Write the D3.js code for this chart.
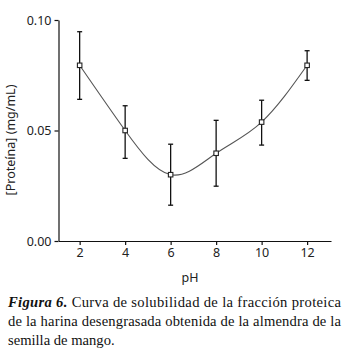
<!DOCTYPE html>
<html>
<head>
<meta charset="utf-8">
<script src="https://cdn.jsdelivr.net/npm/d3@7"></script>
<style>
  body { margin: 0; background: #fff; }
  .axis path, .axis line { stroke: #111; stroke-width: 1.2; }
  .axis text { font-family: "Noto Sans", sans-serif; font-size: 12.5px; fill: #222; }
  .curve { fill: none; stroke: #555; stroke-width: 1.1; }
  .err { stroke: #111; stroke-width: 1.3; }
  .marker { fill: #fff; stroke: #222; stroke-width: 1.1; }
  .label { font-family: "Noto Sans", sans-serif; font-size: 12.5px; fill: #222; }
  .caption { font-family: "Liberation Serif", "Times New Roman", serif; font-size: 14.6px; fill: #111; }
</style>
</head>
<body>
<div id="chart"></div>
<script>
var ph = [2, 4, 6, 8, 10, 12];
var protein = [0.0795, 0.050, 0.030, 0.0397, 0.0538, 0.0795];
var errUpper = [0.0947, 0.0612, 0.0438, 0.0546, 0.0637, 0.0861];
var errLower = [0.0641, 0.0374, 0.0162, 0.0248, 0.0434, 0.0727];
var yTicks = [0, 0.05, 0.10];
var xTicks = [2, 4, 6, 8, 10, 12];
var captionLines = [
  ["Figura 6.", " Curva de solubilidad de la fracción proteica"],
  ["", "de la harina desengrasada obtenida de la almendra de la"],
  ["", "semilla de mango."]
];

var width = 343;
var height = 353;

var svg = d3.select("#chart").append("svg")
  .attr("width", width)
  .attr("height", height);

var x = d3.scaleLinear()
  .domain([1.07, 13.05])
  .range([58.5, 331]);

var y = d3.scaleLinear()
  .domain([0, 0.10])
  .range([241, 20]);

// axes
svg.append("g")
  .attr("class", "axis")
  .attr("transform", "translate(0,241)")
  .call(d3.axisBottom(x).tickValues(xTicks).tickSize(4).tickSizeOuter(0).tickPadding(3));

svg.append("g")
  .attr("class", "axis")
  .attr("transform", "translate(58.5,0)")
  .call(d3.axisLeft(y).tickValues(yTicks).tickSize(4).tickSizeOuter(0).tickPadding(3)
    .tickFormat(d3.format(".2f")));

// curve
var data = ph.map(function(d, i) {
  return { ph: d, v: protein[i], hi: errUpper[i], lo: errLower[i] };
});

var line = d3.line()
  .x(function(d) { return x(d.ph); })
  .y(function(d) { return y(d.v); })
  .curve(d3.curveNatural);

svg.append("path")
  .datum(data)
  .attr("class", "curve")
  .attr("d", line);

// error bars
var capW = 2.5;
var eb = svg.selectAll(".eb")
  .data(data)
  .enter().append("g");

eb.append("line")
  .attr("class", "err")
  .attr("x1", function(d) { return x(d.ph); })
  .attr("x2", function(d) { return x(d.ph); })
  .attr("y1", function(d) { return y(d.hi); })
  .attr("y2", function(d) { return y(d.lo); });

eb.append("line")
  .attr("class", "err")
  .attr("x1", function(d) { return x(d.ph) - capW; })
  .attr("x2", function(d) { return x(d.ph) + capW; })
  .attr("y1", function(d) { return y(d.hi); })
  .attr("y2", function(d) { return y(d.hi); });

eb.append("line")
  .attr("class", "err")
  .attr("x1", function(d) { return x(d.ph) - capW; })
  .attr("x2", function(d) { return x(d.ph) + capW; })
  .attr("y1", function(d) { return y(d.lo); })
  .attr("y2", function(d) { return y(d.lo); });

// markers
var ms = 4.5;
svg.selectAll(".marker")
  .data(data)
  .enter().append("rect")
  .attr("class", "marker")
  .attr("x", function(d) { return x(d.ph) - ms / 2; })
  .attr("y", function(d) { return y(d.v) - ms / 2; })
  .attr("width", ms)
  .attr("height", ms);

// axis labels
svg.append("text")
  .attr("class", "label")
  .attr("x", 190)
  .attr("y", 282)
  .attr("text-anchor", "middle")
  .text("pH");

svg.append("text")
  .attr("class", "label")
  .attr("transform", "translate(15,140) rotate(-90)")
  .attr("text-anchor", "middle")
  .text("[Proteína] (mg/mL)");

// caption
var cap = svg.append("g");
captionLines.forEach(function(l, i) {
  var t = cap.append("text")
    .attr("class", "caption")
    .attr("x", 8)
    .attr("y", 307 + i * 19);
  if (i < 2) t.attr("textLength", 333).attr("lengthAdjust", "spacing");
  if (l[0]) t.append("tspan").style("font-weight", "bold").style("font-style", "italic").text(l[0]);
  t.append("tspan").text(l[1]);
});
</script>
</body>
</html>
